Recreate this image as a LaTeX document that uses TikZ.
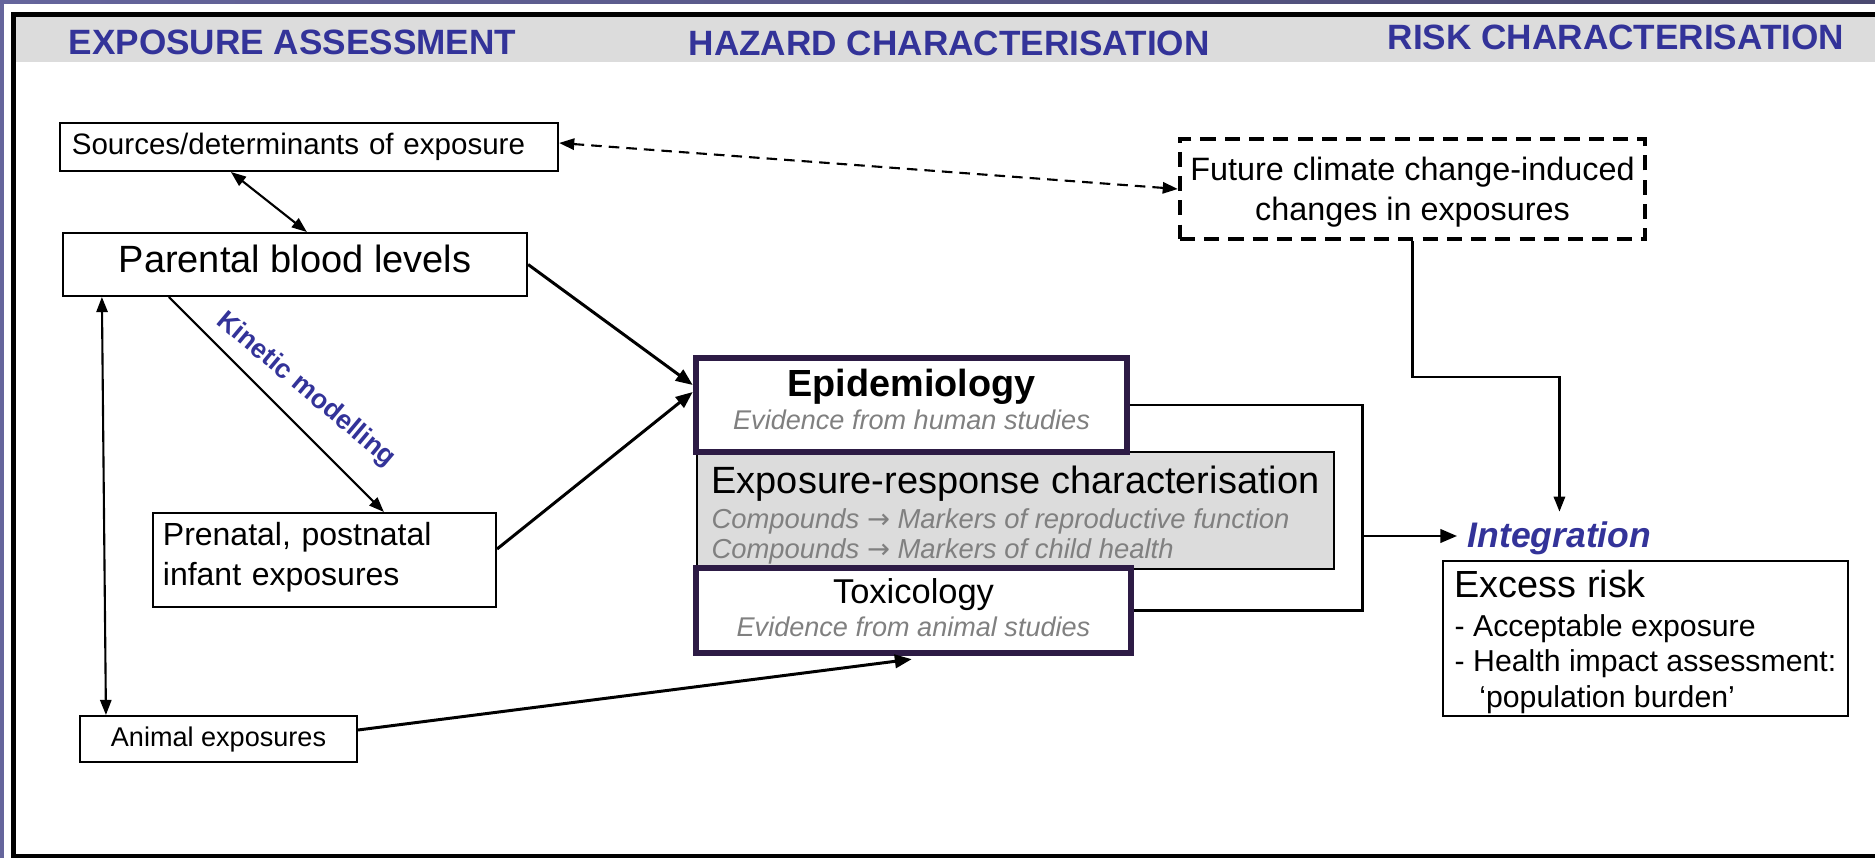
\documentclass[tikz,border=0pt]{standalone}
\usepackage{fontspec}
\setmainfont{Liberation Sans}
\newfontfamily\symfont{DejaVu Sans}
\usetikzlibrary{arrows.meta,calc}

\definecolor{framepurple}{HTML}{65659C}
\definecolor{framedark}{HTML}{4A4970}
\definecolor{headgray}{HTML}{DCDCDC}
\definecolor{headblue}{HTML}{333399}
\definecolor{evpurple}{HTML}{2D1B45}
\definecolor{notegray}{HTML}{808080}

\newcommand{\fsz}[2]{\fontsize{#1}{#2}\selectfont}
\newcommand{\toarrow}{{\symfont\upshape →}}

\begin{document}
\begin{tikzpicture}[
    x=0.01cm, y=-0.01cm,
    box/.style={
        draw,
        line width=0.55pt,
        fill=white,
        inner sep=0pt
    },
    evid/.style={
        draw=evpurple,
        line width=1.8pt,
        fill=white,
        inner sep=0pt,
        align=center
    },
    heading/.style={
        anchor=base west,
        inner sep=0pt,
        text=headblue,
        font=\fsz{10}{12}\bfseries
    },
    arr/.style={-{Triangle[length=4.3pt,width=3.2pt]}, line width=0.6pt},
    bigarr/.style={-{Triangle[length=4.8pt,width=3.8pt]}, line width=0.85pt},
    dbl/.style={{Triangle[length=4.3pt,width=3.2pt]}-{Triangle[length=4.3pt,width=3.2pt]}, line width=0.6pt}
]

\useasboundingbox (0,0) rectangle (1875,858);

% slide frame
\shade[left color=framepurple, right color=framedark] (0,0) rectangle (1875,4);
\fill[framepurple] (0,4) rectangle (3.5,858);
\fill[white] (3.5,4) rectangle (1875,858);
\fill[headgray] (16,17) rectangle (1875,62);
\draw[line width=1.42pt] (13.5,870) -- (13.5,14.5) -- (1890,14.5);
\draw[line width=1.2pt] (11,856) -- (1875,856);

\node[heading] (expo)   at (68,55)   {EXPOSURE ASSESSMENT};
\node[heading] (hazard) at (688,56)  {HAZARD CHARACTERISATION};
\node[heading] (risk)   at (1387,50) {RISK CHARACTERISATION};

% exposure side
\node[box, text width=4.74cm, inner xsep=0.12cm, minimum height=0.48cm,
      align=left, font=\fsz{8.4}{10}] (sources) at (309,147)
    {Sources/determinants of exposure};

\node[box, minimum width=4.64cm, minimum height=0.63cm, text depth=3.5pt,
      font=\fsz{10.8}{13}] (blood) at (295,264.5)
    {Parental blood levels};

\node[box, text width=3.23cm, inner xsep=0.1cm, minimum height=0.94cm,
      align=left, font=\fsz{9.1}{11.4}] (prenatal) at (324.5,560)
    {Prenatal, postnatal\\infant exposures\rule[-3.7pt]{0pt}{1pt}};

\node[box, minimum width=2.77cm, minimum height=0.46cm,
      font=\fsz{7.7}{9}] (animal) at (218.5,739)
    {Animal exposures};

\node[rotate=-40, inner sep=0pt, text=headblue,
      font=\fsz{7.65}{9}\bfseries] (kinetic) at (306,390)
    {Kinetic modelling};

% hazard side
\node[box, fill=headgray, minimum width=6.37cm, minimum height=1.17cm,
      align=left, font=\fsz{7.8}{8.5}\itshape, text=notegray] (response) at (1015.5,510.5)
    {{\fsz{10.8}{8.5}\upshape\color{black}Exposure-response characterisation\rule{0pt}{10.2pt}}\\[1.5pt]
     Compounds \toarrow{} Markers of reproductive function\\
     Compounds \toarrow{} Markers of child health};

\node[evid, minimum width=4.31cm, minimum height=0.94cm,
      font=\fsz{7.7}{9.2}] (epi) at (911.5,405)
    {{\fsz{10.75}{9.2}\bfseries Epidemiology}\\
     {\itshape\color{notegray}Evidence from human studies\rule[-3.3pt]{0pt}{1pt}}};

\node[evid, minimum width=4.35cm, minimum height=0.85cm,
      font=\fsz{7.7}{9.3}] (tox) at (913.5,610.5)
    {{\fsz{9.8}{9.3}Toxicology}\\
     {\itshape\color{notegray}Evidence from animal studies\rule[-1.8pt]{0pt}{1pt}}};

% risk side
\node[box, dash pattern=on 4.3pt off 2.6pt, line width=1.15pt,
      minimum width=4.65cm, minimum height=1cm,
      align=center, font=\fsz{9.2}{11.4}] (future) at (1412.5,189)
    {\rule{0pt}{8.2pt}Future climate change-induced\\changes in exposures};

\node[anchor=base west, inner sep=0pt, text=headblue,
      font=\fsz{10.1}{12}\bfseries\itshape] (integ) at (1467,548)
    {Integration};

\node[box, minimum width=4.05cm, minimum height=1.55cm,
      align=left, font=\fsz{8.6}{10.1}] (excess) at (1645.5,638.5)
    {{\fsz{10.75}{10.1}Excess risk\rule{0pt}{9.5pt}}\\[1pt]
     - Acceptable exposure\\
     - Health impact assessment:\\
     \hspace*{7pt}‘population burden’};

% connectors
\draw[dbl] ($(sources.south west)+(172,0)$) -- ($(blood.north west)+(245,0)$);
\draw[dbl, dash pattern=on 3pt off 2pt] ($(sources.east)+(0,-4)$) -- (future.west);
\draw[bigarr] (blood.east) -- ($(epi.west)+(0,-20)$);
\draw[bigarr] ($(prenatal.east)+(0,-11)$) -- ($(epi.west)+(0,-13)$);
\draw[arr] ($(blood.south west)+(107,0)$) -- ($(prenatal.north west)+(232,0)$);
\draw[dbl] ($(blood.south west)+(40,0)$) -- ($(animal.north west)+(27,0)$);
\draw[bigarr] ($(animal.east)+(0,-9)$) -- ($(tox.south west)+(219,3)$);

\coordinate (merge) at (1362,536);
\draw[line width=0.85pt] (epi.east) -| (merge) |- (tox.east);
\draw[bigarr, shorten >=2.8pt] (merge) -- (merge -| integ.west);
\draw[arr, line width=0.7pt, shorten >=2.8pt]
    (future.south) |- ($(integ.north)+(0,-144.5)$) -- (integ.north);

\end{tikzpicture}
\end{document}
